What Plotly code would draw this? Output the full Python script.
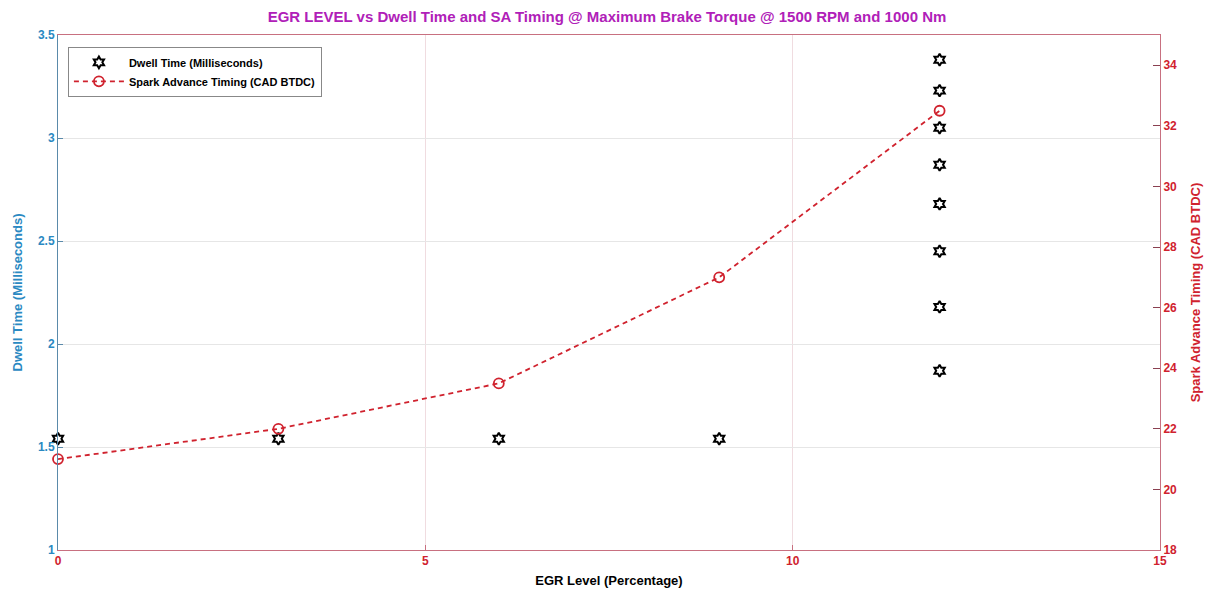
import plotly.graph_objects as go

# Data
egr_dwell = [0, 3, 6, 9, 12, 12, 12, 12, 12, 12, 12, 12]
dwell_ms = [1.54, 1.54, 1.54, 1.54, 3.38, 3.23, 3.05, 2.87, 2.68, 2.45, 2.18, 1.87]
egr_sa = [0, 3, 6, 9, 12]
sa_cad = [21, 22, 23.5, 27, 32.5]

BLUE = "#2A89C2"
RED = "#D0222E"
MAG = "#B020B8"
FONT = "Liberation Sans"

fig = go.Figure()
fig.add_trace(go.Scatter(
    x=egr_dwell, y=dwell_ms, mode="markers", name="Dwell Time (Milliseconds)",
    marker=dict(symbol="hexagram-open", size=9, color="black", line=dict(color="black", width=2)),
    cliponaxis=False, yaxis="y"))
fig.add_trace(go.Scatter(
    x=egr_sa, y=sa_cad, mode="lines+markers", name="Spark Advance Timing (CAD BTDC)",
    line=dict(color=RED, width=1.8, dash="5px,4px"),
    marker=dict(symbol="circle-open", size=10, color=RED, line=dict(color=RED, width=1.8)),
    cliponaxis=False, yaxis="y2"))

fig.update_layout(
    width=1214, height=591,
    margin=dict(l=58, r=54, t=35, b=41),
    paper_bgcolor="white", plot_bgcolor="white",
    font=dict(family=FONT, size=11, color="black", weight="bold"),
    title=dict(text="EGR LEVEL vs Dwell Time and SA Timing @ Maximum Brake Torque @ 1500 RPM and 1000 Nm",
               x=0.5, xanchor="center", y=0.972, yanchor="middle",
               font=dict(family=FONT, size=15, color=MAG, weight="bold")),
    xaxis=dict(range=[0, 15], tickvals=[0, 5, 10, 15], showgrid=True, gridcolor="#F0DCE0",
               showline=True, linecolor="#C87080", linewidth=1, mirror=True,
               ticks="inside", ticklen=5, tickcolor="#C87080", automargin=False,
               tickfont=dict(color=RED, size=12, weight="bold"), zeroline=False,
               title=dict(text="EGR Level (Percentage)", standoff=8,
                          font=dict(size=13, color="black", weight="bold"))),
    yaxis=dict(range=[1, 3.5], tickvals=[1, 1.5, 2, 2.5, 3, 3.5], ticktext=["1", "1.5", "2", "2.5", "3", "3.5"],
               showgrid=True, gridcolor="#E6E6E6", showline=True, linecolor="#5A8AAA", linewidth=1,
               ticks="inside", ticklen=5, tickcolor="#5A8AAA", zeroline=False, automargin=False,
               tickfont=dict(color=BLUE, size=12, weight="bold"),
               title=dict(text="Dwell Time (Milliseconds)", standoff=12,
                          font=dict(size=13, color=BLUE, weight="bold"))),
    yaxis2=dict(range=[18, 35], tickvals=list(range(18, 35, 2)), overlaying="y", side="right",
                showgrid=False, showline=True, linecolor="#C87080", linewidth=1,
                ticks="inside", ticklen=7, tickcolor="#8A4050", zeroline=False, automargin=False,
                tickfont=dict(color=RED, size=12, weight="bold"),
                title=dict(text="Spark Advance Timing (CAD BTDC)", standoff=14,
                           font=dict(size=13, color=RED, weight="bold"))),
    legend=dict(x=0.009, y=0.977, xanchor="left", yanchor="top",
                bgcolor="white", bordercolor="#888888", borderwidth=1,
                font=dict(size=11, color="black", weight="bold"), itemwidth=50,
                tracegroupgap=4),
    showlegend=True,
)

fig.write_html("out.html")
